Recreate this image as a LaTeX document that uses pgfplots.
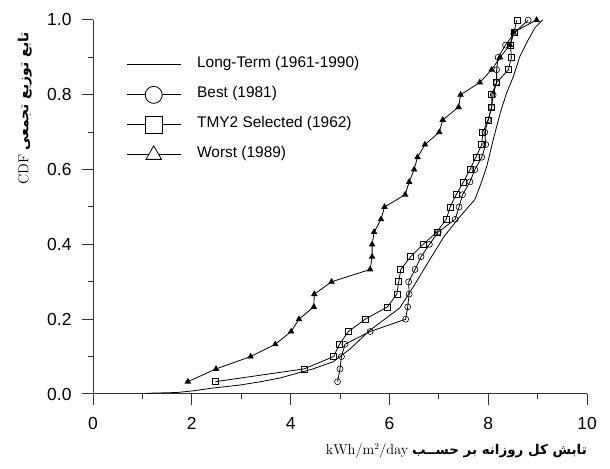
\documentclass[border=0pt]{standalone}
\usepackage[no-math]{fontspec}
\setmainfont{Liberation Sans}
\newfontfamily\arabicfont[Script=Arabic]{DejaVu Sans}
\TeXXeTstate=1
\usepackage{pgfplots}
\pgfplotsset{compat=1.18}

\begin{document}
\begin{tikzpicture}
\begin{axis}[
  at={(93bp,75bp)}, anchor=south west,
  scale only axis,
  width=494bp, height=374bp,
  xmin=0, xmax=10, ymin=0, ymax=1,
  axis lines*=left,
  axis line style={black!80, line width=1bp},
  every tick/.style={black!80, line width=1bp},
  tick align=outside,
  major tick length=11bp, minor tick length=5.5bp,
  xtick={0,2,4,6,8,10}, ytick={0,0.2,0.4,0.6,0.8,1.0},
  minor x tick num=1, minor y tick num=1,
  /pgf/number format/assume math mode=true,
  yticklabel style={/pgf/number format/fixed, /pgf/number format/fixed zerofill, /pgf/number format/precision=1, xshift=-7bp},
  xticklabel style={yshift=-9bp},
  ticklabel style={font=\fontsize{17.5}{17.5}\selectfont},
  xlabel={$\mathrm{kWh/m^2/day}$ {\arabicfont\bfseries\beginR تابش کل روزانه بر حســب\endR}},
  xlabel style={font=\fontsize{13.5}{13.5}\selectfont, at={(axis description cs:1.0,-0.152)}, anchor=east, inner sep=0pt},
  ylabel={$\mathrm{CDF}$ {\arabicfont\bfseries\beginR تابع توزیع تجمعی\endR}},
  ylabel style={font=\fontsize{14}{14}\selectfont, at={(axis description cs:-0.138,0.968)}, anchor=east, inner sep=0pt},
  legend image code/.code={\draw[mark repeat=2,mark phase=2,#1] plot coordinates {(0bp,0bp) (27bp,0bp) (54bp,0bp)};},
  legend cell align=left,
  legend style={draw=none, fill=none, at={(axis description cs:0.061,0.918)}, anchor=north west,
    font=\fontsize{15.5}{15.5}\selectfont, column sep=16bp, row sep=6bp,
    nodes={inner sep=0pt, text height=15bp, text depth=9bp}},
]

% Long-Term (1961-1990)
\addplot[black, line width=0.8bp, forget plot] coordinates {
  (1.05,0.0) (1.11,0.002) (1.70,0.004) (2.0,0.008) (2.43,0.016) (2.98,0.024)
  (3.4,0.033) (3.79,0.043) (4.45,0.067) (4.86,0.086) (5.2,0.12) (5.6,0.17)
  (6.21,0.23) (6.5,0.29) (6.82,0.36) (7.1,0.42) (7.4,0.47) (7.73,0.52)
  (7.83,0.554) (7.97,0.608) (8.10,0.679) (8.24,0.75) (8.37,0.804) (8.51,0.849)
  (8.64,0.902) (8.81,0.947) (8.95,0.98) (9.1,1.0)
};

% Best (1981)
\addplot[black, line width=0.8bp, mark=o, mark size=3bp, mark options={line width=0.6bp}, forget plot] coordinates {
  (4.95,0.033) (5.00,0.067) (5.03,0.100) (5.10,0.133) (5.61,0.167) (6.33,0.200)
  (6.37,0.233) (6.40,0.267) (6.39,0.300) (6.52,0.333) (6.64,0.367) (6.81,0.400)
  (6.99,0.433) (7.33,0.467) (7.41,0.500) (7.48,0.533) (7.63,0.567) (7.73,0.600)
  (7.87,0.633) (7.95,0.667) (7.93,0.700) (8.00,0.733) (8.07,0.767) (8.10,0.800)
  (8.17,0.833) (8.17,0.867) (8.20,0.900) (8.35,0.933) (8.54,0.967) (8.81,1.000)
};

% TMY2 Selected (1962)
\addplot[black, line width=0.8bp, mark=square, mark size=3bp, mark options={line width=0.6bp}, forget plot] coordinates {
  (2.48,0.033) (4.27,0.067) (4.87,0.100) (4.99,0.133) (5.17,0.167) (5.51,0.200)
  (5.96,0.233) (6.15,0.267) (6.19,0.300) (6.23,0.333) (6.43,0.367) (6.68,0.400)
  (6.96,0.433) (7.15,0.467) (7.23,0.500) (7.35,0.533) (7.50,0.567) (7.63,0.600)
  (7.75,0.633) (7.87,0.667) (7.89,0.700) (8.00,0.733) (8.07,0.767) (8.07,0.800)
  (8.17,0.833) (8.41,0.867) (8.47,0.900) (8.45,0.933) (8.52,0.967) (8.58,1.000)
};

% Worst (1989)
\addplot[black, line width=0.8bp, mark=triangle*, mark size=3bp, forget plot] coordinates {
  (1.92,0.033) (2.49,0.067) (3.19,0.100) (3.69,0.133) (4.01,0.167) (4.17,0.200)
  (4.47,0.233) (4.48,0.267) (4.83,0.300) (5.61,0.333) (5.65,0.367) (5.65,0.400)
  (5.69,0.433) (5.83,0.467) (5.90,0.500) (6.32,0.533) (6.40,0.567) (6.50,0.600)
  (6.57,0.633) (6.72,0.667) (7.01,0.700) (7.08,0.733) (7.40,0.767) (7.44,0.800)
  (7.83,0.833) (8.07,0.867) (8.24,0.900) (8.44,0.933) (8.51,0.967) (8.98,1.000)
};

\addlegendimage{black, line width=0.8bp}
\addlegendentry{Long-Term (1961-1990)}
\addlegendimage{black, line width=0.8bp, mark=*, mark size=8.5bp, mark options={fill=white, draw=black, line width=0.8bp}}
\addlegendentry{Best (1981)}
\addlegendimage{black, line width=0.8bp, mark=square*, mark size=8.5bp, mark options={fill=white, draw=black, line width=0.8bp}}
\addlegendentry{TMY2 Selected (1962)}
\addlegendimage{black, line width=0.8bp, mark=triangle*, mark size=9bp, mark options={fill=white, draw=black, line width=0.8bp}}
\addlegendentry{Worst (1989)}
\end{axis}
\pgfresetboundingbox
\useasboundingbox (0,0) rectangle (610bp,469bp);
\end{tikzpicture}
\end{document}
